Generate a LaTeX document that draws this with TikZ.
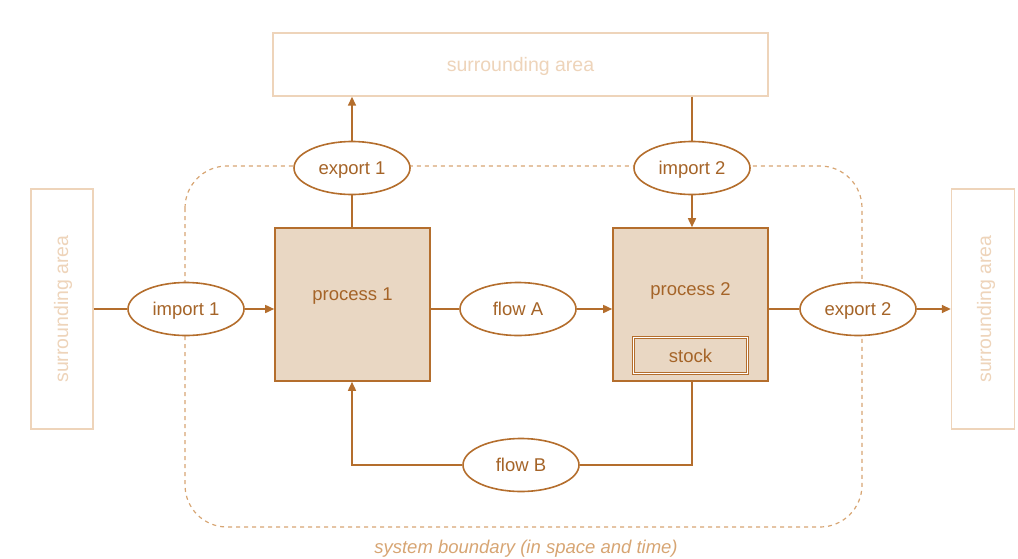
\documentclass[tikz,border=0pt]{standalone}
\usepackage{fontspec}
\setmainfont{Liberation Sans}
\usetikzlibrary{shapes.geometric,arrows.meta}
\definecolor{dk}{RGB}{180,110,45}
\definecolor{tx}{RGB}{165,100,40}
\definecolor{fl}{RGB}{233,215,195}
\definecolor{lt}{RGB}{238,212,186}
\definecolor{bd}{RGB}{215,165,115}
\tikzset{
  x=1pt,y=-1pt,
  txt/.style={font=\fontsize{18.5}{22}\selectfont,text=tx,text height=15pt,text depth=2pt},
  proc/.style={draw=dk,line width=1.6pt,fill=fl,minimum width=155pt,minimum height=153pt,inner sep=0pt},
  flw/.style={ellipse,draw=dk,line width=1.6pt,fill=white,minimum width=116pt,minimum height=53pt,inner sep=0pt,txt},
  sur/.style={draw=lt,line width=1.4pt,fill=white,inner sep=0pt,font=\fontsize{19.5}{22}\selectfont,text=lt},
  con/.style={draw=dk,line width=1.6pt},
  arr/.style={con,-{Triangle[length=9pt,width=8pt]}},
}
\begin{document}
\begin{tikzpicture}
\useasboundingbox (0,0) rectangle (1018,558);
% boundary
\draw[bd,line width=1.2pt,dash pattern=on 4pt off 4pt,rounded corners=42pt] (185,166) rectangle (862,527);
\node[txt,text=bd,font=\fontsize{18.5}{22}\selectfont\itshape] (lab) at (526,547) {system boundary (in space and time)};
% surrounding areas
\node[sur,minimum width=495pt,minimum height=63pt] (top) at (520.5,64.5) {};
\node[sur,draw=none,fill=none,text height=15pt,text depth=2pt] (toptxt) at (520.5,64.5) {surrounding area};
\node[sur,minimum width=62pt,minimum height=240pt] (left) at (62,309) {};
\node[sur,draw=none,fill=none,rotate=90] (lefttxt) at (63,309) {surrounding area};
\node[sur,minimum width=63pt,minimum height=240pt] (right) at (983,309) {};
\node[sur,draw=none,fill=none,rotate=90] (righttxt) at (986,309) {surrounding area};
% processes
\node[proc] (p1) at (352.5,304.5) {};
\node[txt] (p1t) at (352.5,294) {process 1};
\node[proc] (p2) at (690.5,304.5) {};
\node[txt] (p2t) at (690.5,289) {process 2};
\node[draw=dk,line width=1.3pt,double=white,double distance=1.2pt,fill=fl,minimum width=114pt,minimum height=36pt,inner sep=0pt,txt] (stock) at (690.5,355.5) {stock};
% flows
\node[flw] (e1) at (352,168) {export 1};
\node[flw] (i2) at (692,168) {import 2};
\node[flw] (i1) at (186,309) {import 1};
\node[flw] (fa) at (518,309) {flow A};
\node[flw] (e2) at (858,309) {export 2};
\node[flw] (fb) at (521,465) {flow B};
% connectors
\draw[con] (left.east |- i1.west) -- (i1.west);
\draw[arr] (i1.east) -- (p1.west |- i1.east);
\draw[con] (p1.east |- fa.west) -- (fa.west);
\draw[arr] (fa.east) -- (p2.west |- fa.east);
\draw[con] (p2.east |- e2.west) -- (e2.west);
\draw[arr] (e2.east) -- (right.west |- e2.east);
\draw[con] (p1.north -| e1.south) -- (e1.south);
\draw[arr] (e1.north) -- (e1.north |- top.south);
\draw[con] (top.south -| i2.north) -- (i2.north);
\draw[arr] (i2.south) -- (i2.south |- p2.north);
\draw[con] (p2.south -| i2.south) |- (fb.east);
\draw[arr] (fb.west) -| (p1.south -| e1.south);
\end{tikzpicture}
\end{document}
